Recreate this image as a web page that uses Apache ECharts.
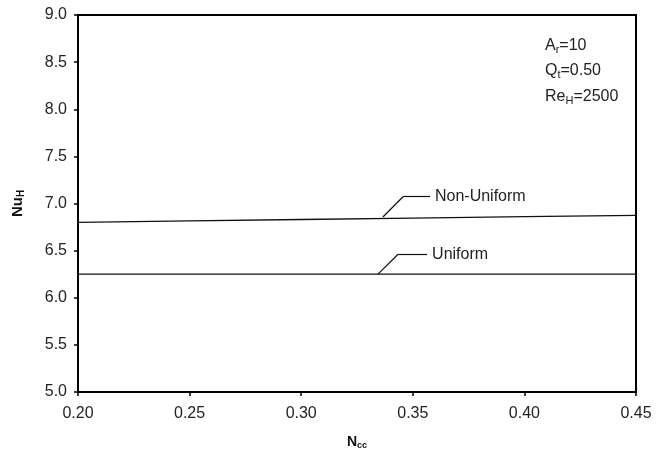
<!DOCTYPE html>
<html><head><meta charset="utf-8">
<script src="https://cdn.jsdelivr.net/npm/echarts@6/dist/echarts.min.js"></script>
<style>html,body{margin:0;padding:0;background:#fff}#c{width:665px;height:456px}</style>
</head><body><div id="c"></div>
<script>
const xValues = [0.20, 0.25, 0.30, 0.35, 0.40, 0.45];
const nonUniform = [6.80, 6.815, 6.83, 6.845, 6.86, 6.875];
const uniform = [6.25, 6.25, 6.25, 6.25, 6.25, 6.25];
const seriesNames = ['Non-Uniform', 'Uniform'];
// leader line anchors (data space)
const nonUniformLeader = [[0.3366, 6.857], [0.3456, 7.072], [0.3577, 7.072]];
const uniformLeader = [[0.3344, 6.25], [0.3434, 6.461], [0.3564, 6.461]];

const font = 'Liberation Sans, Arial, sans-serif';
const txt = '#222';
function leader(pts, name) {
  return [
    [{coord: pts[0]}, {coord: pts[1]}],
    [{coord: pts[1]}, {coord: pts[2], label: {show: true, formatter: name}}]
  ];
}
const annRich = {m: {fontFamily: font, fontSize: 16, fill: txt}, s: {fontFamily: font, fontSize: 11, fill: txt, padding: [8,0,0,0]}};
const chart = echarts.init(document.getElementById('c'));
chart.setOption({
  animation: false,
  grid: {left: 78, top: 15, right: 29, bottom: 64, show: true, borderColor: '#000', borderWidth: 2, backgroundColor: '#fff'},
  xAxis: {
    type: 'value', min: 0.20, max: 0.45, interval: 0.05,
    axisLine: {lineStyle: {color: '#000', width: 2}},
    axisTick: {show: true, length: 4, lineStyle: {color: '#000', width: 1.5}},
    splitLine: {show: false},
    axisLabel: {color: txt, fontFamily: font, fontSize: 16, margin: 14, formatter: v => v.toFixed(2)},
    name: '{b|N}{s|cc}', nameLocation: 'middle', nameGap: 42,
    nameTextStyle: {rich: {b: {fontFamily: font, fontWeight: 'bold', fontSize: 14, color: '#111'}, s: {fontFamily: font, fontWeight: 'bold', fontSize: 9, color: '#111', padding: [7,0,0,0]}}}
  },
  yAxis: {
    type: 'value', min: 5.0, max: 9.0, interval: 0.5,
    axisLine: {show: true, onZero: false, lineStyle: {color: '#000', width: 2}},
    axisTick: {show: true, length: 4, lineStyle: {color: '#000', width: 1.5}},
    splitLine: {show: false},
    axisLabel: {color: txt, fontFamily: font, fontSize: 16, margin: 11, formatter: v => v.toFixed(1)},
    name: '{b|Nu}{s|H}', nameLocation: 'middle', nameGap: 52,
    nameTextStyle: {rich: {b: {fontFamily: font, fontWeight: 'bold', fontSize: 15, color: '#111'}, s: {fontFamily: font, fontWeight: 'bold', fontSize: 10, color: '#111', padding: [6,0,0,0]}}}
  },
  series: [
    {
      name: seriesNames[0], type: 'line', symbol: 'none',
      data: xValues.map((x, i) => [x, nonUniform[i]]),
      lineStyle: {color: '#111', width: 1.3},
      markLine: {
        silent: true, symbol: 'none',
        lineStyle: {color: '#111', width: 1.2, type: 'solid'},
        label: {show: false, position: 'end', distance: 5, color: txt, fontFamily: font, fontSize: 16, padding: [0,0,6,0]},
        emphasis: {disabled: true},
        data: leader(nonUniformLeader, seriesNames[0])
      }
    },
    {
      name: seriesNames[1], type: 'line', symbol: 'none',
      data: xValues.map((x, i) => [x, uniform[i]]),
      lineStyle: {color: '#111', width: 1.3},
      markLine: {
        silent: true, symbol: 'none',
        lineStyle: {color: '#111', width: 1.2, type: 'solid'},
        label: {show: false, position: 'end', distance: 5, color: txt, fontFamily: font, fontSize: 16, padding: [0,0,6,0]},
        emphasis: {disabled: true},
        data: leader(uniformLeader, seriesNames[1])
      }
    }
  ],
  graphic: [
    {type: 'text', left: 545, top: 38, style: {text: '{m|A}{s|r}{m|=10}', rich: annRich}},
    {type: 'text', left: 545, top: 63, style: {text: '{m|Q}{s|t}{m|=0.50}', rich: annRich}},
    {type: 'text', left: 545, top: 89, style: {text: '{m|Re}{s|H}{m|=2500}', rich: annRich}}
  ]
});
</script></body></html>
